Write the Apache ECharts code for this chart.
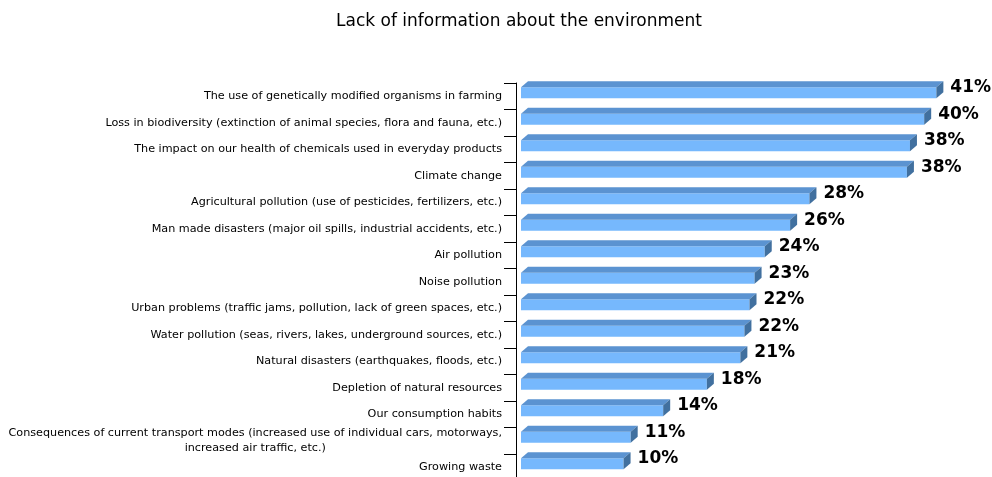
<!DOCTYPE html>
<html>
<head>
<meta charset="utf-8">
<script src="https://cdn.jsdelivr.net/npm/echarts@6/dist/echarts.min.js"></script>
<style>html,body{margin:0;padding:0;background:#fff}#c{width:992px;height:477px}</style>
</head>
<body>
<div id="c"></div>
<script>
const categories = [
  'The use of genetically modified organisms in farming',
  'Loss in biodiversity (extinction of animal species, flora and fauna, etc.)',
  'The impact on our health of chemicals used in everyday products',
  'Climate change',
  'Agricultural pollution (use of pesticides, fertilizers, etc.)',
  'Man made disasters (major oil spills, industrial accidents, etc.)',
  'Air pollution',
  'Noise pollution',
  'Urban problems (traffic jams, pollution, lack of green spaces, etc.)',
  'Water pollution (seas, rivers, lakes, underground sources, etc.)',
  'Natural disasters (earthquakes, floods, etc.)',
  'Depletion of natural resources',
  'Our consumption habits',
  'Consequences of current transport modes (increased use of individual cars, motorways,\nincreased air traffic, etc.)',
  'Growing waste'
];
const values = [40.9, 39.7, 38.3, 38.0, 28.4, 26.5, 24.0, 23.0, 22.5, 22.0, 21.6, 18.3, 14.0, 10.8, 10.1];
const valueLabels = ['41%', '40%', '38%', '38%', '28%', '26%', '24%', '23%', '22%', '22%', '21%', '18%', '14%', '11%', '10%'];

const FONT = "'DejaVu Sans', Verdana, sans-serif";
const chart = echarts.init(document.getElementById('c'), null, {renderer: 'canvas'});

const DX = 7, DY = 6, GAP = 5;
function renderItem(params, api) {
  const v = api.value(0);
  const cat = api.value(1);
  const p0 = api.coord([0, cat]);
  const p1 = api.coord([v, cat]);
  const x0 = p0[0] + GAP, x1 = p1[0] + GAP, c = p0[1];
  const yT = c - 9, yB = c + 2;
  return {
    type: 'group',
    children: [
      {type: 'rect', shape: {x: x0, y: yT, width: x1 - x0, height: yB - yT}, style: {fill: '#76B8FD'}},
      {type: 'polygon', shape: {points: [[x0, yT], [x0 + DX, yT - DY], [x1 + DX, yT - DY], [x1, yT]]}, style: {fill: '#5B93D1'}},
      {type: 'polygon', shape: {points: [[x1, yT], [x1 + DX, yT - DY], [x1 + DX, yB - DY], [x1, yB]]}, style: {fill: '#41709F'}},
      {type: 'text', x: x1 + DX + 7, y: c - 8.5, style: {text: valueLabels[params.dataIndex], fill: '#000', font: 'bold 17px ' + FONT, textAlign: 'left', textVerticalAlign: 'middle'}}
    ]
  };
}

chart.setOption({
  animation: false,
  backgroundColor: '#fff',
  title: {
    text: 'Lack of information about the environment',
    left: 514, top: 8, textAlign: 'center',
    textStyle: {fontFamily: FONT, fontSize: 17, fontWeight: 'normal', color: '#000'}
  },
  grid: {left: 516, top: 83, right: 19, height: 397.5, containLabel: false, outerBoundsMode: 'none'},
  xAxis: {
    type: 'value', min: 0, max: 45, show: false
  },
  yAxis: {
    type: 'category', data: categories, inverse: true,
    axisLine: {show: true, lineStyle: {color: '#000', width: 1}},
    axisTick: {show: true, length: 12, lineStyle: {color: '#000'}},
    axisLabel: {
      margin: 14, fontFamily: FONT, fontSize: 11.2, color: '#000',
      formatter: function (val) {
        return val.split('\n').map(s => '{c|' + s + '}').join('\n');
      },
      rich: {c: {fontFamily: FONT, fontSize: 11.2, color: '#000', align: 'center', lineHeight: 15}}
    },
    splitLine: {show: false}
  },
  series: [{
    type: 'custom',
    renderItem: renderItem,
    encode: {x: 0, y: 1},
    data: values.map((v, i) => [v, i]),
    clip: false
  }]
});
</script>
</body>
</html>
